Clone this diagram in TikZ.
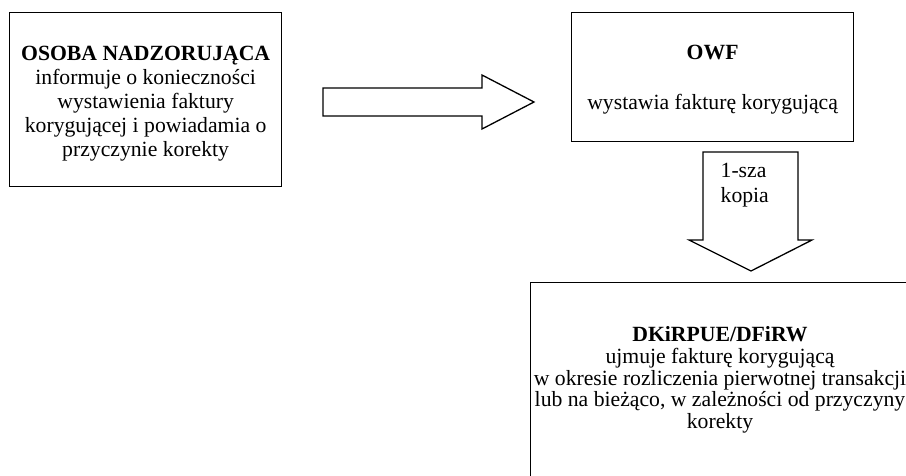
\documentclass[tikz,border=0pt]{standalone}
\usepackage{fontspec}
\setmainfont{Liberation Serif}
\begin{document}
\begin{tikzpicture}[x=1pt,y=-1pt,
  line width=1.3pt,
  box/.style={draw=black, line width=1.3pt, inner sep=0pt, anchor=north west},
  txt/.style={align=center, inner sep=0pt, font=\fontsize{21.7}{24}\selectfont},
  tighttxt/.style={align=center, inner sep=0pt, font=\fontsize{21.7}{21.7}\selectfont},
  blockarrow/.style={draw=black, line width=1.3pt, line join=miter, fill=white}]
\useasboundingbox (0,0) rectangle (906,475);
\clip (0,0) rectangle (906,475);

% source box
\node[box, minimum width=272, minimum height=174] (nadzor) at (9,12) {};
\node[txt] (nadzortxt) at ([yshift=-4pt]nadzor.center)
  {\textbf{OSOBA NADZORUJĄCA}\\informuje o konieczności\\wystawienia faktury\\korygującej i powiadamia o\\przyczynie korekty};

% invoicing box
\node[box, minimum width=282, minimum height=129] (owf) at (571,12) {};
\node[txt] (owftxt) at ([yshift=-3pt]owf.center)
  {\textbf{OWF}\\[26pt]wystawia fakturę korygującą};

% booking box, running past the page edge
\node[box, minimum width=420, minimum height=260] (dk) at (530,282) {};
\node[tighttxt] (dktxt) at (720,380)
  {\textbf{DKiRPUE/DFiRW}\\ujmuje fakturę korygującą\\w okresie rozliczenia pierwotnej transakcji\\lub na bieżąco, w zależności od przyczyny\\korekty};

% block arrow from the source box to the invoicing box
\coordinate (ra) at (323,88);
\draw[blockarrow] (ra) -- (482,88) -- (482,75) -- (534,102) -- (482,129)
  -- (482,116) -- (323,116) -- cycle;

% block arrow from the invoicing box to the booking box
\coordinate (da) at (703,152);
\draw[blockarrow] (da) -- (798,152) -- (798,240) -- (812,240) -- (751,271)
  -- (689,240) -- (703,240) -- cycle;
\node[txt, align=left, anchor=north west, font=\fontsize{21.7}{25}\selectfont] (kopia) at (720,163) {1-sza\\kopia};
\end{tikzpicture}
\end{document}
